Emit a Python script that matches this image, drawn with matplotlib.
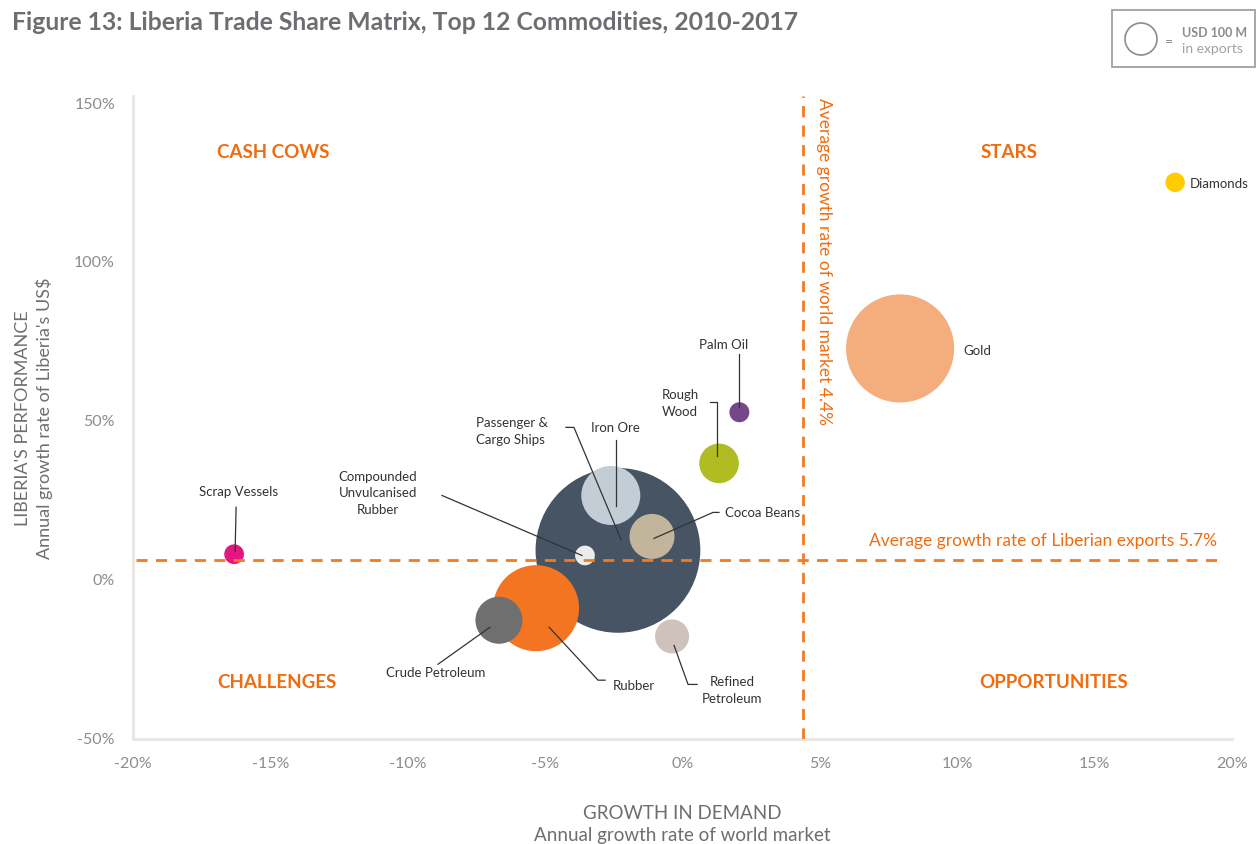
import matplotlib.pyplot as plt
import matplotlib.transforms as mtransforms
from matplotlib.patches import Rectangle

# data: growth of world market (%), growth of Liberia's exports (%), exports (USD M)
names = ["Passenger & Cargo Ships", "Gold", "Rubber", "Iron Ore", "Crude Petroleum", "Cocoa Beans",
         "Rough Wood", "Refined Petroleum", "Compounded Unvulcanised Rubber", "Palm Oil",
         "Diamonds", "Scrap Vessels"]
world_growth = [-2.35, 7.92, -5.33, -2.61, -6.68, -1.11, 1.33, -0.38, -3.55, 2.07, 17.93, -16.32]
liberia_growth = [8.8, 72.4, -9.4, 26.1, -13.2, 13.2, 36.2, -18.3, 7.2, 52.3, 124.7, 7.6]
exports = [2650, 1140, 722, 340, 216, 198, 153, 113, 38, 39, 37, 38]
colors = ["#465464", "#F4AE7E", "#F47521", "#C3CDD5", "#6F6F6F", "#C2B59B",
          "#AFBD22", "#CFC2BC", "#ECECEC", "#754788", "#FFCC00", "#E3177F"]

avg_world = 4.4
avg_exports = 5.7
xticks = [-20, -15, -10, -5, 0, 5, 10, 15, 20]
yticks = [-50, 0, 50, 100, 150]

# label placement in pixels relative to the bubble centre: text offset, alignment, leader path
labels = {
    "Passenger & Cargo Ships": ((-142, 120), "left", "Passenger &\nCargo Ships", [(-52, 123), (-44, 123), (3, 11)]),
    "Gold": ((63, -2), "left", "Gold", []),
    "Rubber": ((98, -77), "center", "Rubber", [(69, -72), (62, -72), (13, -19)]),
    "Iron Ore": ((5, 68), "center", "Iron Ore", [(5, 55), (5, -11)]),
    "Crude Petroleum": ((-63, -52), "center", "Crude Petroleum", [(-61, -44), (-9, -7)]),
    "Cocoa Beans": ((73, 24), "left", "Cocoa Beans", [(67, 24), (61, 24), (2, -2)]),
    "Rough Wood": ((-57, 61), "left", "Rough\nWood", [(-9, 61), (-2, 61), (-2, 7)]),
    "Refined Petroleum": ((60, -53), "center", "Refined\nPetroleum", [(25, -48), (16, -48), (2, -9)]),
    "Compounded Unvulcanised Rubber": ((-207, 63), "center", "Compounded\nUnvulcanised\nRubber", [(-143, 60), (-3, 0)]),
    "Palm Oil": ((-16, 68), "center", "Palm Oil", [(0, 58), (0, 5)]),
    "Diamonds": ((15, -1), "left", "Diamonds", []),
    "Scrap Vessels": ((4, 63), "center", "Scrap Vessels", [(2, 47), (1, 3)]),
}

orange = "#EF6C0F"
dash_orange = "#F47A20"
grey = "#6D6E71"
tick_grey = "#8C8C8C"
size_per_musd = 5.31  # bubble area (pt^2) per USD 1 M

plt.rcParams['font.family'] = ['Lato', 'DejaVu Sans']

fig = plt.figure(figsize=(12.59, 8.45), dpi=100)
ax = fig.add_axes([133 / 1259, 1 - 740 / 845, 1099 / 1259, 643 / 845])

ax.scatter(world_growth, liberia_growth, s=[v * size_per_musd for v in exports],
           c=colors, linewidths=0, zorder=2)

ax.axvline(avg_world, color=dash_orange, lw=2, ls=(0, (4, 3)), zorder=3)
ax.plot([-19.9, 19.7], [avg_exports, avg_exports], color=dash_orange, lw=2, ls=(0, (4, 3)), zorder=3)

ax.annotate("Average growth rate of world market 4.4%", xy=(avg_world, 151.9), xytext=(21, -1),
            textcoords="offset pixels", rotation=-90, ha="center", va="top",
            color=orange, fontsize=12.5)
ax.annotate("Average growth rate of Liberian exports 5.7%", xy=(20, avg_exports), xytext=(-15, 20),
            textcoords="offset pixels", ha="right", va="center", color=orange, fontsize=12.5)

for n, x, y in zip(names, world_growth, liberia_growth):
    off, ha, txt, path = labels[n]
    ax.annotate(txt, xy=(x, y), xytext=off, textcoords="offset pixels", ha=ha, va="center",
                fontsize=9.5, color="#333333", linespacing=1.45, zorder=5)
    if path:
        tr = fig.dpi_scale_trans + mtransforms.ScaledTranslation(x, y, ax.transData)
        ax.plot([p[0] / 100 for p in path], [p[1] / 100 for p in path], color="#333333",
                lw=0.9, transform=tr, zorder=4, clip_on=False)

# quadrant names
for txt, qx, qy in [("CASH COWS", 0.128, 0.913), ("STARS", 0.797, 0.913),
                    ("CHALLENGES", 0.131, 0.089), ("OPPORTUNITIES", 0.838, 0.089)]:
    ax.text(qx, qy, txt, transform=ax.transAxes, ha="center", va="center",
            color=orange, fontsize=13.5, fontweight="bold")

ax.set_xlim(-20, 20)
ax.set_ylim(-50.6, 151.9)
ax.set_xticks(xticks)
ax.set_xticklabels([f"{t}%" for t in xticks])
ax.set_yticks(yticks)
ax.set_yticklabels([f"{t}%" for t in yticks])
ax.tick_params(length=0, labelsize=11.5, labelcolor=tick_grey)
ax.tick_params(axis="x", pad=12)
ax.tick_params(axis="y", pad=13)
for s in ["top", "right"]:
    ax.spines[s].set_visible(False)
for s in ["left", "bottom"]:
    ax.spines[s].set_color("#E9E5E1")
    ax.spines[s].set_linewidth(2)

ax.set_xlabel("GROWTH IN DEMAND\nAnnual growth rate of world market", fontsize=13.5,
              color=grey, labelpad=25, linespacing=1.3)
ax.set_ylabel("LIBERIA'S PERFORMANCE\nAnnual growth rate of Liberia's US$", fontsize=13,
              color=grey, labelpad=15, linespacing=1.3)

fig.text(12 / 1259, 1 - 22 / 845, "Figure 13: Liberia Trade Share Matrix, Top 12 Commodities, 2010-2017",
         ha="left", va="center", fontsize=17.8, fontweight="bold", color=grey)

# size legend box
fig.patches.append(Rectangle((1112 / 1259, 1 - 68 / 845), 143 / 1259, 57 / 845,
                             transform=fig.transFigure, fill=False, edgecolor="#A0A0A0", lw=1.3))
ax.scatter([1141 / 1259], [1 - 40 / 845], s=100 * size_per_musd, facecolors="none",
           edgecolors="#8C8C8C", linewidths=1.2, transform=fig.transFigure, clip_on=False)
fig.text(1169 / 1259, 1 - 42 / 845, "=", ha="center", va="center", fontsize=10, color="#8C8C8C")
fig.text(1182 / 1259, 1 - 33 / 845, "USD 100 M", ha="left", va="center", fontsize=9,
         fontweight="bold", color="#8C8C8C")
fig.text(1182 / 1259, 1 - 49 / 845, "in exports", ha="left", va="center", fontsize=10, color="#A0A0A0")

fig.savefig("out.png", dpi=100)
